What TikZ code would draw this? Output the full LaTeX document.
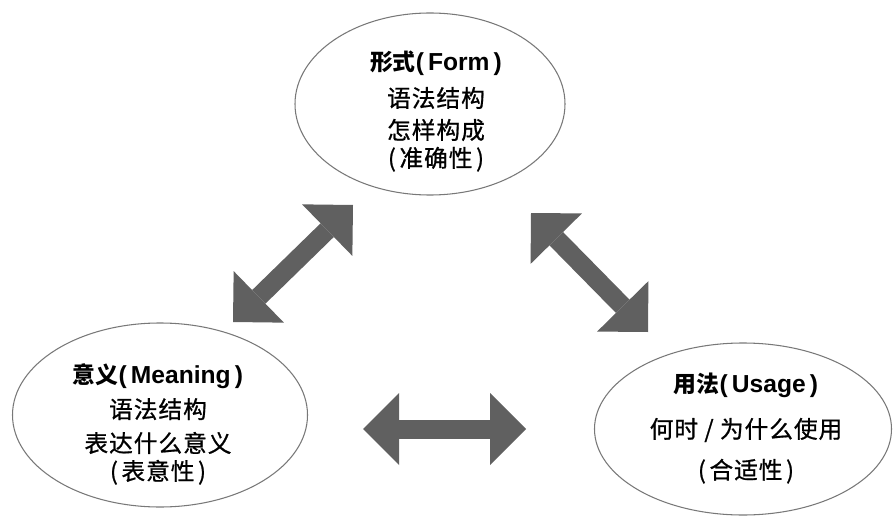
\documentclass[tikz,border=0pt]{standalone}
\usepackage{fontspec}
\usetikzlibrary{shapes.geometric,arrows.meta}
\newfontfamily\cjk[LetterSpace=4,FakeBold=0.8]{Noto Sans CJK SC}
\newfontfamily\cjkt{Noto Sans CJK SC}
\newfontfamily\latb{Liberation Sans}
\definecolor{arrgray}{RGB}{96,96,96}
\definecolor{ellgray}{RGB}{120,120,120}
\newcommand\ttlline[2]{{\cjkt\bfseries\fontsize{13pt}{16pt}\selectfont #1}{\latb\bfseries\fontsize{14pt}{16pt}\selectfont(\,#2\,)}}
\newcommand\parline[1]{(\kern2pt#1\kern2pt)}
\tikzset{
  ell/.style={ellipse, draw=ellgray, line width=0.6pt, fill=white, inner sep=0pt},
  txt/.style={align=center, inner sep=0pt, font=\cjk\fontsize{13.5pt}{15.9pt}\selectfont},
  bigarrow/.style={draw=arrgray, line width=3.8mm,
    arrows={Triangle[length=7.2mm,width=14.4mm,line width=0pt,fill=arrgray]-Triangle[length=7.2mm,width=14.4mm,line width=0pt,fill=arrgray]}}
}
\begin{document}
\begin{tikzpicture}[x=0.2mm,y=-0.2mm]
\fill[white] (0,0) rectangle (893,516);
\useasboundingbox (0,0) rectangle (893,516);
% ellipses
\node[ell, minimum width=54mm, minimum height=36.4mm] (form) at (430,104) {};
\node[ell, minimum width=59mm, minimum height=36.8mm] (meaning) at (160,415) {};
\node[ell, minimum width=59.4mm, minimum height=34.4mm] (usage) at (743,429) {};
% texts
\node[txt] (formtxt) at (436,111) {\ttlline{形式}{Form}\\[5.1pt]语法结构\\[2.3pt]怎样构成\\\parline{准确性}};
\node[txt] (meaningtxt) at (158,424) {\ttlline{意义}{Meaning}\\[4pt]语法结构\\[3.4pt]表达什么意义\\\parline{表意性}};
\node[txt] (usagetxt) at (746,428) {\ttlline{用法}{Usage}\\[10.2pt]何时 / 为什么使用\\[7.4pt]\parline{合适性}};
% arrow end points
\coordinate (mf-a) at (233,322);
\coordinate (mf-b) at (353,205);
\coordinate (fu-a) at (531,213);
\coordinate (fu-b) at (648,332);
\coordinate (mu-a) at (363,429);
\coordinate (mu-b) at (526,429);
\draw[bigarrow] (mf-a) -- (mf-b);
\draw[bigarrow] (fu-a) -- (fu-b);
\draw[bigarrow] (mu-a) -- (mu-b);
\end{tikzpicture}
\end{document}
